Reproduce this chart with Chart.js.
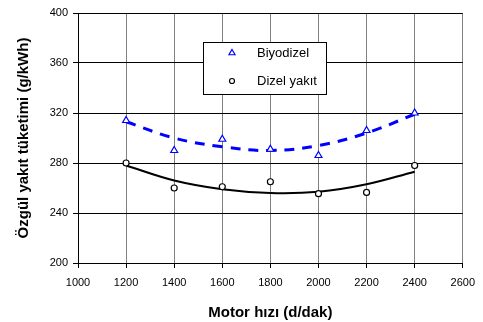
<!DOCTYPE html>
<html>
<head>
<meta charset="utf-8">
<script src="https://cdn.jsdelivr.net/npm/chart.js@4.4.1/dist/chart.umd.min.js"></script>
<style>
  body { margin: 0; background: #fff; }
  #wrap { width: 483px; height: 322px; }
</style>
</head>
<body>
<div id="wrap"><canvas id="chart1" width="483" height="322"></canvas></div>
<script>
// motor speed (d/dak)
var speeds = [1200, 1400, 1600, 1800, 2000, 2200, 2400]
// measured specific fuel consumption (g/kWh)
var biyodizel = [314, 290, 299, 291, 286, 306, 320]
var dizel = [280, 260, 261, 265, 255.5, 256.5, 278]
// trend curves
var biyodizelTrend = [313, 300, 293, 290, 294, 304, 319]
var dizelTrend = [278, 266, 259, 256, 257, 263, 273]

function pairs(xs, ys) {
    var out = []
    xs.forEach(function (x, i) { out.push({x: x, y: ys[i]}) })
    return out
}

var font = "'Liberation Sans', Arial, sans-serif"

// legend box sitting inside the plot
var boxLegend = {
    id: 'boxLegend',
    afterDraw: function (chart) {
        var ctx = chart.ctx
        var x = chart.scales.x, y = chart.scales.y
        var left = Math.round(x.getPixelForValue(1520)), right = Math.round(x.getPixelForValue(2030))
        var top = Math.round(y.getPixelForValue(377)), bottom = Math.round(y.getPixelForValue(335))
        ctx.save()
        ctx.fillStyle = '#fff'
        ctx.fillRect(left, top, right - left, bottom - top)
        ctx.strokeStyle = '#000'
        ctx.lineWidth = 1
        ctx.strokeRect(left + 0.5, top + 0.5, right - left, bottom - top)
        var rows = [chart.data.datasets[0], chart.data.datasets[1]]
        var rowY = [top + 11, top + 39]
        rows.forEach(function (ds, i) {
            ctx.fillStyle = ds.backgroundColor
            ctx.strokeStyle = ds.borderColor
            ctx.lineWidth = ds.borderWidth
            Chart.helpers.drawPoint(ctx, {
                pointStyle: ds.pointStyle,
                radius: ds.pointRadius - 0.5,
                borderWidth: ds.borderWidth
            }, left + 29, rowY[i])
            ctx.fillStyle = '#000'
            ctx.font = '13px ' + font
            ctx.textBaseline = 'middle'
            ctx.textAlign = 'left'
            ctx.fillText(ds.label, left + 54, rowY[i])
        })
        ctx.restore()
    }
}

var ctx1 = document.getElementById('chart1')
var myChart = new Chart(ctx1, {
    type: 'scatter',
    data: {
        datasets: [{
            label: 'Biyodizel',
            data: pairs(speeds, biyodizel),
            pointStyle: 'triangle',
            pointRadius: 4,
            borderWidth: 1.2,
            borderColor: '#0000ff',
            backgroundColor: '#ffffff',
            showLine: false,
            order: 0
        }, {
            label: 'Dizel yakıt',
            data: pairs(speeds, dizel),
            pointStyle: 'circle',
            pointRadius: 3,
            borderWidth: 1.2,
            borderColor: '#000000',
            backgroundColor: '#ffffff',
            showLine: false,
            order: 0
        }, {
            label: 'biyodizel trend',
            data: pairs(speeds, biyodizelTrend),
            showLine: true,
            pointRadius: 0,
            borderColor: '#0000ff',
            borderWidth: 3,
            borderDash: [10, 8],
            tension: 0.4,
            order: 1
        }, {
            label: 'dizel trend',
            data: pairs(speeds, dizelTrend),
            showLine: true,
            pointRadius: 0,
            borderColor: '#000000',
            borderWidth: 2,
            tension: 0.4,
            order: 1
        }]
    },
    options: {
        responsive: false,
        animation: false,
        layout: { padding: { left: 0, top: 13, right: 18, bottom: 0 } },
        scales: {
            x: {
                type: 'linear',
                min: 1000,
                max: 2600,
                afterFit: function (s) { s.height = 59 },
                ticks: {
                    stepSize: 200, color: '#000', font: { family: font, size: 11 }, padding: 8, maxRotation: 0,
                    callback: function (v) { return String(v) }
                },
                grid: { color: '#808080', tickColor: '#000', tickLength: 5, lineWidth: 1 },
                border: { color: '#000', width: 1 },
                title: { display: true, text: 'Motor hızı (d/dak)', color: '#000', font: { family: font, size: 15, weight: 'bold' }, padding: { top: 8, bottom: 0 } }
            },
            y: {
                min: 200,
                max: 400,
                afterFit: function (s) { s.width = 78 },
                ticks: { stepSize: 40, color: '#000', font: { family: font, size: 11 }, padding: 5 },
                grid: { color: '#000', tickColor: '#000', tickLength: 5, lineWidth: 1 },
                border: { color: '#000', width: 1 },
                title: { display: true, text: 'Özgül yakıt tüketimi (g/kWh)', color: '#000', font: { family: font, size: 15, weight: 'bold' }, padding: { top: 15, bottom: 4 } }
            }
        },
        plugins: {
            legend: { display: false },
            tooltip: { enabled: false }
        }
    },
    plugins: [boxLegend]
})
</script>
</body>
</html>
